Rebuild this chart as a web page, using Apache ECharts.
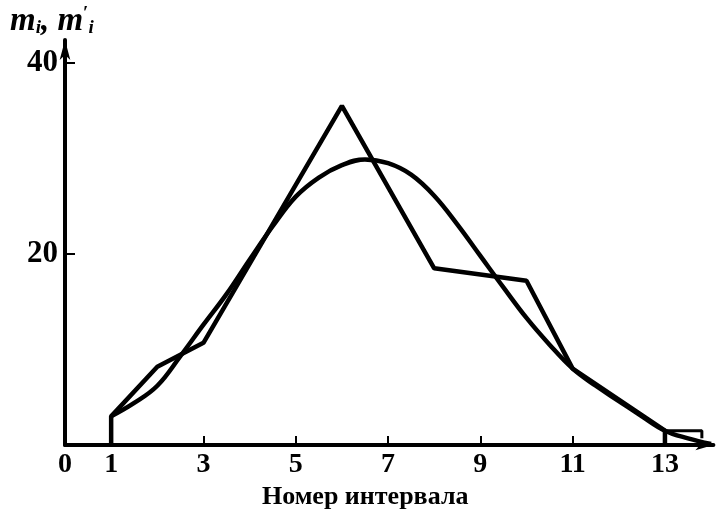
<!DOCTYPE html>
<html>
<head>
<meta charset="utf-8">
<script src="https://cdn.jsdelivr.net/npm/echarts@6/dist/echarts.min.js"></script>
<style>
  html, body { margin: 0; padding: 0; background: #fff; }
  #chart { width: 722px; height: 511px; }
</style>
</head>
<body>
<div id="chart"></div>
<script>
// Frequency polygon (empirical counts m_i per interval)
const polygonX = [1, 1, 2, 3, 6, 8, 10, 11, 13, 13];
const polygonY = [0, 3.0, 8.2, 10.7, 35.5, 18.5, 17.2, 8.0, 1.5, 0];

// Last-interval step outline
const stepX = [13, 13.8, 13.8];
const stepY = [1.5, 1.5, 0.7];

// Fitted theoretical counts m'_i
const curveX = [1, 1.5, 2, 2.5, 3, 3.5, 4, 4.5, 5, 5.5, 6, 6.5, 7, 7.5, 8, 8.5, 9, 9.5, 10, 10.5, 11, 11.5, 12, 12.5, 13, 13.5, 14];
const curveY = [3.0, 4.4, 6.2, 9.3, 12.6, 15.8, 19.4, 22.9, 26.0, 28.0, 29.3, 29.9, 29.5, 28.3, 26.1, 23.1, 19.8, 16.5, 13.3, 10.5, 8.0, 6.2, 4.6, 3.0, 1.5, 0.7, 0.1];

// Axis ticks and labels
const xTickValues = [1, 3, 5, 7, 9, 11, 13];
const xLabelValues = [0, 1, 3, 5, 7, 9, 11, 13];
const yTickValues = [20, 40];

const pairs = (xs, ys) => xs.map((x, i) => [x, ys[i]]);

const serif = '"Liberation Serif", "DejaVu Serif", serif';
const lineStyle = { color: '#000', width: 4.5 };

const chart = echarts.init(document.getElementById('chart'), null, { renderer: 'canvas' });
chart.setOption({
  animation: false,
  backgroundColor: '#fff',
  grid: { left: 65, right: 8.6, top: 40, bottom: 66, containLabel: false, outerBoundsMode: 'none' },
  xAxis: {
    type: 'value',
    min: 0,
    max: 14.05,
    name: 'Номер интервала',
    nameLocation: 'middle',
    nameGap: 38,
    nameTextStyle: { fontFamily: serif, fontWeight: 'bold', fontSize: 26, color: '#000', padding: [0, 48, 0, 0] },
    axisLine: { show: true, lineStyle: { color: '#000', width: 4 }, symbol: ['none', 'arrow'], symbolSize: [8, 18] },
    axisTick: { show: true, inside: true, length: 9, lineStyle: { color: '#000', width: 2 }, customValues: xTickValues },
    axisLabel: { fontFamily: serif, fontWeight: 'bold', fontSize: 28, color: '#000', margin: 6, customValues: xLabelValues },
    splitLine: { show: false }
  },
  yAxis: {
    type: 'value',
    min: 0,
    max: 42.4,
    axisLine: { show: true, lineStyle: { color: '#000', width: 4 }, symbol: ['none', 'arrow'], symbolSize: [8, 20] },
    axisTick: { show: true, inside: true, length: 10, lineStyle: { color: '#000', width: 2 }, customValues: yTickValues },
    axisLabel: { fontFamily: serif, fontWeight: 'bold', fontSize: 31, color: '#000', margin: 7, customValues: yTickValues },
    splitLine: { show: false }
  },
  graphic: [{
    type: 'text',
    left: 10,
    top: 5,
    style: {
      text: '{m|m}{s|i}{m|, m}{p|′}{s|i}',
      rich: {
        m: { fontFamily: serif, fontStyle: 'italic', fontWeight: 'bold', fontSize: 33, fill: '#000', verticalAlign: 'bottom' },
        s: { fontFamily: serif, fontStyle: 'italic', fontWeight: 'bold', fontSize: 19, fill: '#000', verticalAlign: 'bottom', padding: [8, 0, 0, 0] },
        p: { fontFamily: serif, fontWeight: 'bold', fontSize: 19, fill: '#000', verticalAlign: 'top' }
      }
    }
  }],
  series: [
    { name: 'm_i', type: 'line', data: pairs(polygonX, polygonY), symbol: 'none', lineStyle, z: 3 },
    { name: 'step', type: 'line', data: pairs(stepX, stepY), symbol: 'none', lineStyle: { color: '#000', width: 3 }, z: 3 },
    { name: "m'_i", type: 'line', data: pairs(curveX, curveY), symbol: 'none', smooth: 0.4, lineStyle, z: 3 }
  ]
});
</script>
</body>
</html>
